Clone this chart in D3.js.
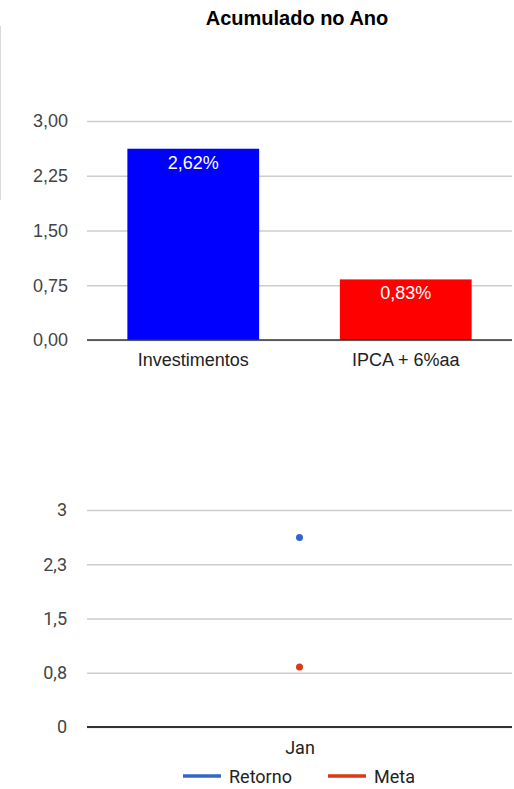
<!DOCTYPE html>
<html lang="pt">
<head>
<meta charset="UTF-8">
<title>Acumulado no Ano</title>
<script src="https://d3js.org/d3.v7.min.js"></script>
<style>
  html, body { margin: 0; padding: 0; background: #fff; overflow: hidden; }
  svg { display: block; }
</style>
</head>
<body>
<svg id="chart" width="514" height="789"></svg>
<script>
// top chart: accumulated
const barCats = ['Investimentos', 'IPCA + 6%aa']
const barValues = [2.62, 0.83]
const barLabels = ['2,62%', '0,83%']
const barColors = ['#0000ff', '#ff0000']
const barTicks = [0, 0.75, 1.5, 2.25, 3]
const barTickLabels = ['0,00', '0,75', '1,50', '2,25', '3,00']

// bottom chart: monthly
const months = ['Jan']
const retorno = [2.62]
const meta = [0.83]
const seriesNames = ['Retorno', 'Meta']
const seriesColors = ['#3366cc', '#dc3912']
const lineTicks = [0, 0.75, 1.5, 2.25, 3]
const lineTickLabels = ['0', '0,8', '1,5', '2,3', '3']

const svg = d3.select('#chart')
const left = 87, right = 512
const font1 = 'Liberation Sans, Arial, sans-serif'
const font2 = 'Roboto, Arial, sans-serif'

// faint border line on the left
svg.append('line').attr('x1', 0.5).attr('x2', 0.5).attr('y1', 26).attr('y2', 200)
  .style('stroke', '#d9d9d9').style('stroke-width', 1)

svg.append('text').text('Acumulado no Ano')
  .attr('x', 297).attr('y', 25).attr('text-anchor', 'middle')
  .style('font-family', font1)
  .style('font-weight', 'bold').style('font-size', '20px').style('fill', '#000')

// ---- bar chart
const x1 = d3.scaleBand().domain(barCats).range([left, right]).paddingInner(0.38).paddingOuter(0.19)
const y1 = d3.scaleLinear().domain([0, 3]).range([340, 121])

const g1 = svg.append('g')
g1.append('g').attr('transform', `translate(${left},0)`)
  .call(d3.axisLeft(y1).tickValues(barTicks).tickSize(-(right - left)).tickFormat((d, i) => barTickLabels[i]))
  .call(g => g.select('.domain').remove())
  .call(g => g.selectAll('.tick line').style('stroke', '#cccccc').style('stroke-width', 1.5))
  .call(g => g.selectAll('.tick text').attr('x', -19)
    .style('font-family', font1).style('font-size', '18px').style('fill', '#444'))

g1.selectAll('rect').data(barValues).enter().append('rect')
  .attr('x', (d, i) => x1(barCats[i]))
  .attr('width', x1.bandwidth())
  .attr('y', d => y1(d))
  .attr('height', d => y1(0) - y1(d))
  .style('fill', (d, i) => barColors[i])

g1.selectAll('.vlabel').data(barValues).enter().append('text').attr('class', 'vlabel')
  .text((d, i) => barLabels[i])
  .attr('x', (d, i) => x1(barCats[i]) + x1.bandwidth() / 2)
  .attr('y', d => y1(d) + 20)
  .attr('text-anchor', 'middle')
  .style('font-family', font1).style('font-size', '18px').style('fill', '#fff')

g1.append('line').attr('x1', left).attr('x2', right).attr('y1', y1(0)).attr('y2', y1(0))
  .style('stroke', '#333').style('stroke-width', 1.5)

g1.append('g').attr('transform', `translate(0,${y1(0)})`)
  .call(d3.axisBottom(x1).tickSize(0).tickPadding(13))
  .call(g => g.select('.domain').remove())
  .call(g => g.selectAll('.tick text')
    .style('font-family', font1).style('font-size', '18px').style('fill', '#222'))

// ---- line chart (single month => points only)
const x2 = d3.scalePoint().domain(months).range([left, right]).padding(0.5)
const y2 = d3.scaleLinear().domain([0, 3]).range([727, 510])

const g2 = svg.append('g')
g2.append('g').attr('transform', `translate(${left},0)`)
  .call(d3.axisLeft(y2).tickValues(lineTicks).tickSize(-(right - left)).tickFormat((d, i) => lineTickLabels[i]))
  .call(g => g.select('.domain').remove())
  .call(g => g.selectAll('.tick line').style('stroke', '#cccccc').style('stroke-width', 1.5))
  .call(g => g.selectAll('.tick text').attr('x', -20)
    .style('font-family', font2).style('font-size', '18px').style('fill', '#444'))

g2.append('line').attr('x1', left).attr('x2', right).attr('y1', y2(0)).attr('y2', y2(0))
  .style('stroke', '#333').style('stroke-width', 2)

const series = [retorno, meta]
series.forEach((vals, s) => {
  g2.selectAll(`.pt${s}`).data(vals).enter().append('circle').attr('class', `pt${s}`)
    .attr('cx', (d, i) => x2(months[i]))
    .attr('cy', d => y2(d))
    .attr('r', 3.5)
    .style('fill', seriesColors[s])
})

g2.append('g').attr('transform', `translate(0,${y2(0)})`)
  .call(d3.axisBottom(x2).tickSize(0).tickPadding(14))
  .call(g => g.select('.domain').remove())
  .call(g => g.selectAll('.tick text')
    .style('font-family', font2).style('font-size', '18px').style('fill', '#222'))

// legend
const legendX = [183, 328]
const legend = g2.selectAll('.leg').data(seriesNames).enter().append('g').attr('class', 'leg')
  .attr('transform', (d, i) => `translate(${legendX[i]},776)`)
legend.append('line').attr('x1', 0).attr('x2', 38).attr('y1', 0).attr('y2', 0)
  .style('stroke', (d, i) => seriesColors[i]).style('stroke-width', 3.5)
legend.append('text').text(d => d).attr('x', 46).attr('y', 6.5)
  .style('font-family', font2).style('font-size', '18px').style('fill', '#222')
</script>
</body>
</html>
